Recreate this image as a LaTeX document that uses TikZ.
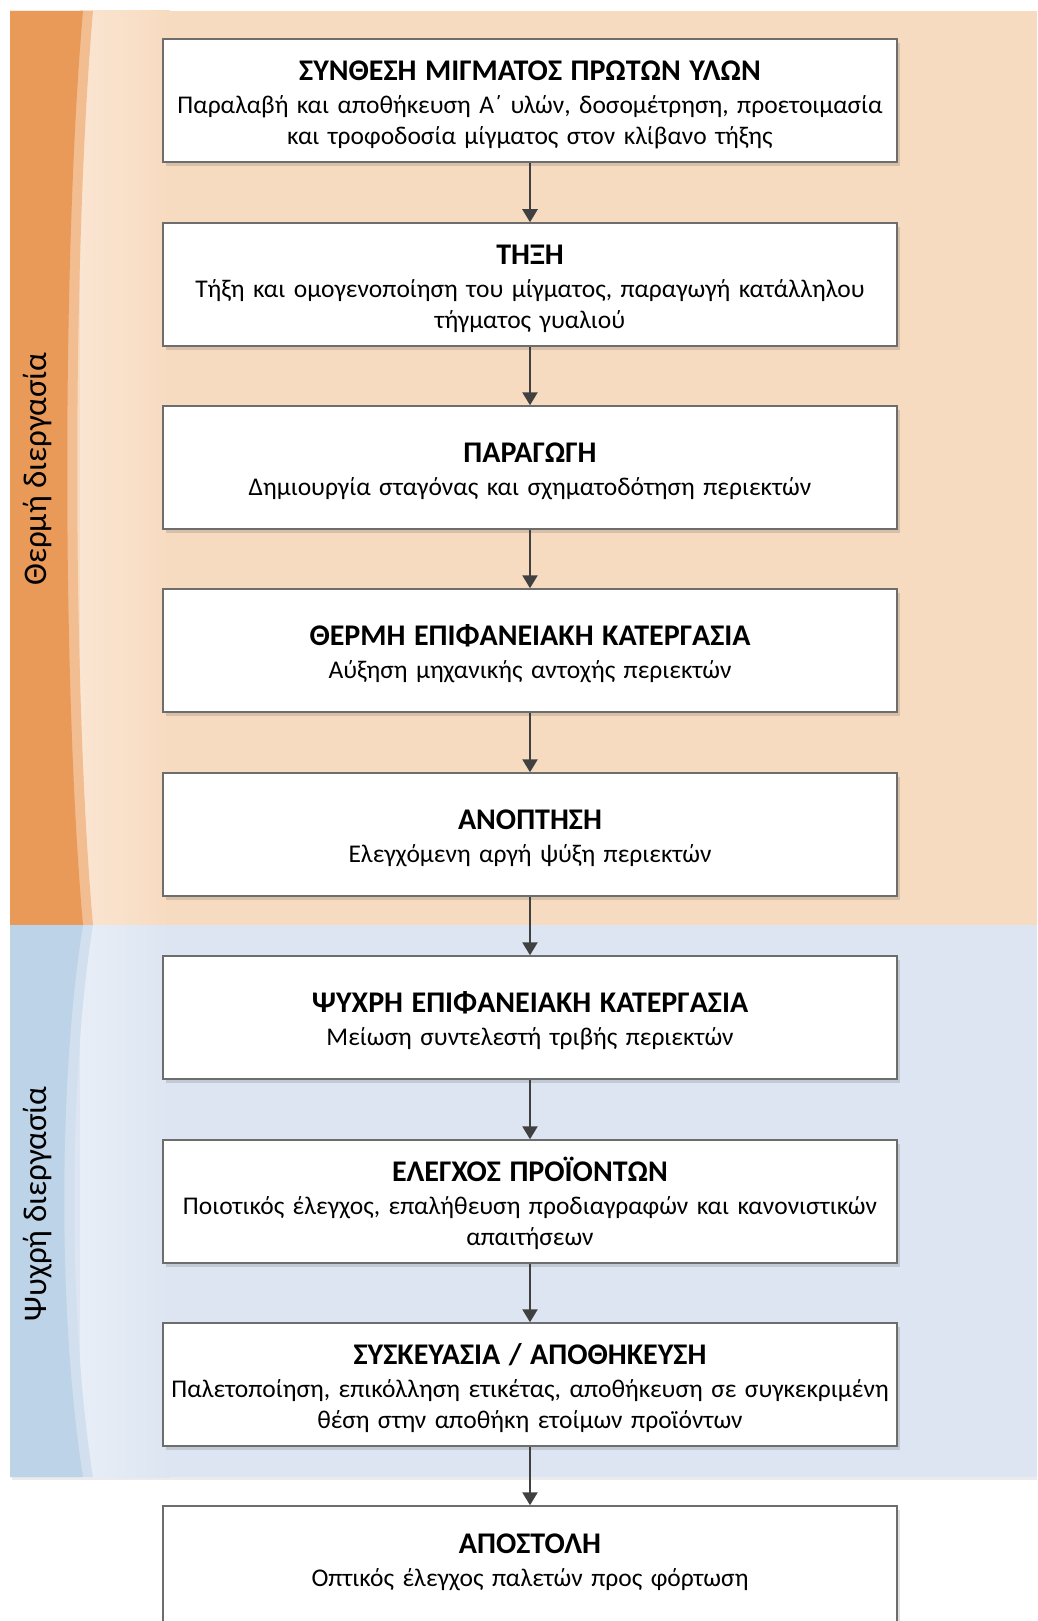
\documentclass[tikz,border=0pt]{standalone}
\usepackage{fontspec}
\setmainfont{Carlito}
\usetikzlibrary{arrows.meta,shadows}
\definecolor{hotdark}{HTML}{E99A58}
\definecolor{hotstrip}{HTML}{F2BD90}
\definecolor{hotbase}{HTML}{F7DBC0}
\definecolor{hotlight}{HTML}{FAE5D2}
\definecolor{colddark}{HTML}{BDD3E8}
\definecolor{coldstrip}{HTML}{D2DFEE}
\definecolor{coldbase}{HTML}{DCE5F1}
\definecolor{coldlight}{HTML}{E8EEF7}
\definecolor{boxline}{HTML}{6D6D6D}
\definecolor{arrowgray}{HTML}{404040}
\newcommand{\steptitle}[1]{\rule{0pt}{28pt}{\fontsize{30}{33}\selectfont\textbf{#1}}\\[2pt]}
\begin{document}
\begin{tikzpicture}[x=1pt,y=-1pt]
    \useasboundingbox (0,0) rectangle (1037,1621);
    % hot process band
    \fill[hotbase] (10,11) rectangle (1037,925);
    \shade[left color=hotlight,right color=hotbase] (80,11) rectangle (170,925);
    \fill[hotstrip] (10,11) -- (93,11) .. controls (72,250) and (72,690) .. (93,925) -- (10,925) -- cycle;
    \fill[hotdark] (10,11) -- (83,11) .. controls (62,250) and (62,690) .. (83,925) -- (10,925) -- cycle;
    % cold process band
    \fill[black!8] (12,1477) rectangle (1037,1480);
    \fill[coldbase] (10,925) rectangle (1037,1477);
    \shade[left color=coldlight,right color=coldbase] (80,925) rectangle (170,1477);
    \fill[coldstrip] (10,925) -- (93,925) .. controls (68,1080) and (68,1320) .. (93,1477) -- (10,1477) -- cycle;
    \fill[colddark] (10,925) -- (83,925) .. controls (58,1080) and (58,1320) .. (83,1477) -- (10,1477) -- cycle;
    \node[rotate=90,font=\fontsize{33}{39}\selectfont] (hot) at (38,469) {Θερμή διεργασία};
    \node[rotate=90,font=\fontsize{33}{39}\selectfont] (cold) at (38,1204) {Ψυχρή διεργασία};
    \begin{scope}[every node/.style={draw=boxline,line width=1.5pt,fill=white,
        minimum width=734pt,minimum height=123pt,inner sep=0pt,
        text width=732pt,align=center,font=\fontsize{25.5}{31}\selectfont,
        drop shadow={shadow xshift=3pt,shadow yshift=-4pt,fill=black,opacity=0.12}}]
    \node (b1) at (530,100.5) {\steptitle{ΣΥΝΘΕΣΗ ΜΙΓΜΑΤΟΣ ΠΡΩΤΩΝ ΥΛΩΝ}Παραλαβή και αποθήκευση Α΄ υλών, δοσομέτρηση, προετοιμασία\\και τροφοδοσία μίγματος στον κλίβανο τήξης};
    \node (b2) at (530,284.5) {\steptitle{ΤΗΞΗ}Τήξη και ομογενοποίηση του μίγματος, παραγωγή κατάλληλου\\τήγματος γυαλιού};
    \node (b3) at (530,467.5) {\steptitle{ΠΑΡΑΓΩΓΗ}Δημιουργία σταγόνας και σχηματοδότηση περιεκτών};
    \node (b4) at (530,650.5) {\steptitle{ΘΕΡΜΗ ΕΠΙΦΑΝΕΙΑΚΗ ΚΑΤΕΡΓΑΣΙΑ}Αύξηση μηχανικής αντοχής περιεκτών};
    \node (b5) at (530,834.5) {\steptitle{ΑΝΟΠΤΗΣΗ}Ελεγχόμενη αργή ψύξη περιεκτών};
    \node (b6) at (530,1017.5) {\steptitle{ΨΥΧΡΗ ΕΠΙΦΑΝΕΙΑΚΗ ΚΑΤΕΡΓΑΣΙΑ}Μείωση συντελεστή τριβής περιεκτών};
    \node (b7) at (530,1201.5) {\steptitle{ΕΛΕΓΧΟΣ ΠΡΟΪΟΝΤΩΝ}Ποιοτικός έλεγχος, επαλήθευση προδιαγραφών και κανονιστικών\\απαιτήσεων};
    \node (b8) at (530,1384.5) {\steptitle{ΣΥΣΚΕΥΑΣΙΑ / ΑΠΟΘΗΚΕΥΣΗ}Παλετοποίηση, επικόλληση ετικέτας, αποθήκευση σε συγκεκριμένη\\θέση στην αποθήκη ετοίμων προϊόντων};
    \node (b9) at (530,1567.5) {\steptitle{ΑΠΟΣΤΟΛΗ}Οπτικός έλεγχος παλετών προς φόρτωση\rule[-24pt]{0pt}{0pt}};
    \end{scope}
    \begin{scope}[every edge/.style={draw=arrowgray,line width=2.5pt,-{Triangle[width=15pt,length=13pt]}}]
    \path (b1) edge (b2)
          (b2) edge (b3)
          (b3) edge (b4)
          (b4) edge (b5)
          (b5) edge (b6)
          (b6) edge (b7)
          (b7) edge (b8)
          (b8) edge (b9);
    \end{scope}
\end{tikzpicture}
\end{document}
